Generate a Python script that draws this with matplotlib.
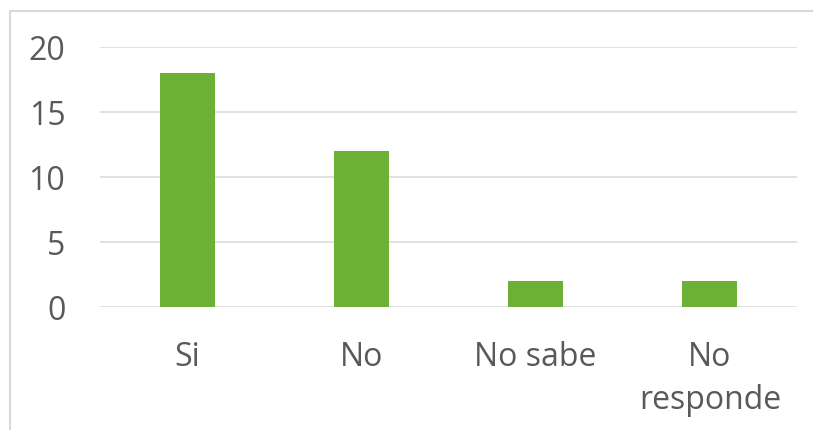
import matplotlib
matplotlib.use('Agg')
import matplotlib.pyplot as plt
from matplotlib.patches import Rectangle

plt.rcParams['font.family'] = ['Open Sans', 'DejaVu Sans']

categories = ['Si', 'No', 'No sabe', 'No\nresponde']
values = [18, 12, 2, 2]
yticks = [0, 5, 10, 15, 20]

W, H = 813, 431
fig = plt.figure(figsize=(W / 100, H / 100), dpi=100)
ax = fig.add_axes([100 / W, 1 - 308 / H, 697 / W, 260 / H])

x = range(len(categories))
ax.bar(x, values, width=0.315, color='#6CB035', zorder=3)

ax.set_xlim(-0.5, len(categories) - 0.5)
ax.set_ylim(0, 20)
ax.set_yticks(yticks)
ax.set_xticks(list(x))
ax.set_xticklabels(categories, linespacing=1.4)
ax.grid(axis='y', color='#d9d9d9', linewidth=1.1, zorder=0)
for s in ax.spines.values():
    s.set_visible(False)
ax.tick_params(axis='y', length=0, pad=25, labelsize=23, labelcolor='#595959')
ax.tick_params(axis='x', length=0, pad=24, labelsize=23, labelcolor='#595959')

# outer chart border
fig.patches.append(Rectangle((10 / W, -0.1), 1.2, 1 - 12 / H + 0.1,
                             transform=fig.transFigure, fill=False,
                             edgecolor='#d9d9d9', linewidth=1.5))

fig.savefig('out.png', dpi=100, facecolor='white')
